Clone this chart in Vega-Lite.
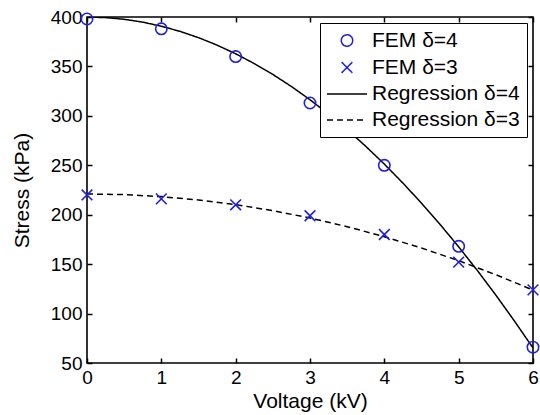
{
  "$schema": "https://vega.github.io/schema/vega-lite/v6.json",
  "width": 446,
  "height": 346,
  "autosize": {"type": "none"},
  "padding": {"left": 87, "top": 17, "right": 7, "bottom": 52},
  "background": "white",
  "config": {
    "font": "Liberation Sans",
    "view": {"stroke": "black", "strokeWidth": 1.6},
    "axis": {
      "grid": false,
      "domain": false,
      "ticks": true,
      "tickColor": "black",
      "tickOpacity": 1,
      "tickSize": 5,
      "offset": -5,
      "tickWidth": 1.5,
      "zindex": 1,
      "labelFontSize": 19,
      "labelColor": "black",
      "titleFontSize": 21,
      "titleFontWeight": "normal",
      "titleColor": "black",
      "labelFlush": false,
      "labelOverlap": false
    }
  },
  "data": {
    "values": [
      {"v": 0, "stress": 398, "series": "FEM δ=4", "kind": "fem4"},
      {"v": 1, "stress": 388, "series": "FEM δ=4", "kind": "fem4"},
      {"v": 2, "stress": 360, "series": "FEM δ=4", "kind": "fem4"},
      {"v": 3, "stress": 313, "series": "FEM δ=4", "kind": "fem4"},
      {"v": 4, "stress": 250, "series": "FEM δ=4", "kind": "fem4"},
      {"v": 5, "stress": 168, "series": "FEM δ=4", "kind": "fem4"},
      {"v": 6, "stress": 66, "series": "FEM δ=4", "kind": "fem4"},
      {"v": 0, "stress": 220, "series": "FEM δ=3", "kind": "fem3"},
      {"v": 1, "stress": 216, "series": "FEM δ=3", "kind": "fem3"},
      {"v": 2, "stress": 210, "series": "FEM δ=3", "kind": "fem3"},
      {"v": 3, "stress": 199, "series": "FEM δ=3", "kind": "fem3"},
      {"v": 4, "stress": 180, "series": "FEM δ=3", "kind": "fem3"},
      {"v": 5, "stress": 152, "series": "FEM δ=3", "kind": "fem3"},
      {"v": 6, "stress": 124, "series": "FEM δ=3", "kind": "fem3"},
      {"v": 0, "stress": 400, "series": "Regression δ=4", "kind": "reg4"},
      {"v": 0.25, "stress": 399.4, "series": "Regression δ=4", "kind": "reg4"},
      {"v": 0.5, "stress": 397.7, "series": "Regression δ=4", "kind": "reg4"},
      {"v": 0.75, "stress": 394.8, "series": "Regression δ=4", "kind": "reg4"},
      {"v": 1, "stress": 390.7, "series": "Regression δ=4", "kind": "reg4"},
      {"v": 1.25, "stress": 385.5, "series": "Regression δ=4", "kind": "reg4"},
      {"v": 1.5, "stress": 379.1, "series": "Regression δ=4", "kind": "reg4"},
      {"v": 1.75, "stress": 371.5, "series": "Regression δ=4", "kind": "reg4"},
      {"v": 2, "stress": 362.8, "series": "Regression δ=4", "kind": "reg4"},
      {"v": 2.25, "stress": 352.9, "series": "Regression δ=4", "kind": "reg4"},
      {"v": 2.5, "stress": 341.9, "series": "Regression δ=4", "kind": "reg4"},
      {"v": 2.75, "stress": 329.7, "series": "Regression δ=4", "kind": "reg4"},
      {"v": 3, "stress": 316.3, "series": "Regression δ=4", "kind": "reg4"},
      {"v": 3.25, "stress": 301.8, "series": "Regression δ=4", "kind": "reg4"},
      {"v": 3.5, "stress": 286.1, "series": "Regression δ=4", "kind": "reg4"},
      {"v": 3.75, "stress": 269.2, "series": "Regression δ=4", "kind": "reg4"},
      {"v": 4, "stress": 251.2, "series": "Regression δ=4", "kind": "reg4"},
      {"v": 4.25, "stress": 232.0, "series": "Regression δ=4", "kind": "reg4"},
      {"v": 4.5, "stress": 211.7, "series": "Regression δ=4", "kind": "reg4"},
      {"v": 4.75, "stress": 190.2, "series": "Regression δ=4", "kind": "reg4"},
      {"v": 5, "stress": 167.5, "series": "Regression δ=4", "kind": "reg4"},
      {"v": 5.25, "stress": 143.7, "series": "Regression δ=4", "kind": "reg4"},
      {"v": 5.5, "stress": 118.7, "series": "Regression δ=4", "kind": "reg4"},
      {"v": 5.75, "stress": 92.5, "series": "Regression δ=4", "kind": "reg4"},
      {"v": 6, "stress": 65.2, "series": "Regression δ=4", "kind": "reg4"},
      {"v": 0, "stress": 221, "series": "Regression δ=3", "kind": "reg3"},
      {"v": 0.5, "stress": 220.3, "series": "Regression δ=3", "kind": "reg3"},
      {"v": 1, "stress": 218.3, "series": "Regression δ=3", "kind": "reg3"},
      {"v": 1.5, "stress": 214.9, "series": "Regression δ=3", "kind": "reg3"},
      {"v": 2, "stress": 210.2, "series": "Regression δ=3", "kind": "reg3"},
      {"v": 2.5, "stress": 204.1, "series": "Regression δ=3", "kind": "reg3"},
      {"v": 3, "stress": 196.7, "series": "Regression δ=3", "kind": "reg3"},
      {"v": 3.5, "stress": 187.9, "series": "Regression δ=3", "kind": "reg3"},
      {"v": 4, "stress": 177.8, "series": "Regression δ=3", "kind": "reg3"},
      {"v": 4.5, "stress": 166.3, "series": "Regression δ=3", "kind": "reg3"},
      {"v": 5, "stress": 153.5, "series": "Regression δ=3", "kind": "reg3"},
      {"v": 5.5, "stress": 139.3, "series": "Regression δ=3", "kind": "reg3"},
      {"v": 6, "stress": 123.8, "series": "Regression δ=3", "kind": "reg3"}
    ]
  },
  "layer": [
    {
      "transform": [{"filter": "datum.kind === 'reg4' || datum.kind === 'reg3'"}],
      "mark": {"type": "line", "strokeWidth": 1.5, "clip": true},
      "encoding": {
        "x": {"field": "v", "type": "quantitative", "scale": {"domain": [0, 6], "nice": false}, "axis": {"orient": "bottom", "title": "Voltage (kV)", "tickCount": 6, "labelPadding": 5, "titlePadding": 3}},
        "y": {"field": "stress", "type": "quantitative", "scale": {"domain": [50, 400], "nice": false, "zero": false}, "axis": {"orient": "left", "title": "Stress (kPa)", "tickCount": 7, "labelPadding": 5, "titlePadding": 18}},
        "color": {
          "field": "series", "type": "nominal",
          "scale": {"domain": ["FEM δ=4", "FEM δ=3", "Regression δ=4", "Regression δ=3"], "range": ["#1f1fe6", "#1f1fe6", "black", "black"]},
          "legend": {
            "title": null,
            "orient": "top-right",
            "offset": 6,
            "padding": 7,
            "strokeColor": "black",
            "fillColor": "white",
            "labelFontSize": 21,
            "labelColor": "black",
            "labelLimit": 300,
            "rowPadding": 5,
            "symbolStrokeWidth": 1.5,
            "symbolOffset": 9,
            "labelOffset": 14
          }
        },
        "strokeDash": {
          "field": "series", "type": "nominal",
          "scale": {"domain": ["FEM δ=4", "FEM δ=3", "Regression δ=4", "Regression δ=3"], "range": [[1, 0], [1, 0], [1, 0], [6, 4]]},
          "legend": {"title": null}
        }
      }
    },
    {
      "transform": [{"filter": "datum.kind === 'fem4' || datum.kind === 'fem3'"}],
      "mark": {"type": "point", "filled": false, "strokeWidth": 1.6, "opacity": 1},
      "encoding": {
        "x": {"field": "v", "type": "quantitative", "axis": null},
        "y": {"field": "stress", "type": "quantitative", "axis": null},
        "color": {"field": "series", "type": "nominal"},
        "shape": {
          "field": "series", "type": "nominal",
          "scale": {"domain": ["FEM δ=4", "FEM δ=3", "Regression δ=4", "Regression δ=3"], "range": ["circle", "M-1,-1L1,1M-1,1L1,-1", "M-2,0L2,0", "M-2,0L2,0"]},
          "legend": {"title": null}
        },
        "size": {
          "field": "series", "type": "nominal",
          "scale": {"type": "ordinal", "domain": ["FEM δ=4", "FEM δ=3", "Regression δ=4", "Regression δ=3"], "range": [130, 115, 400, 400]},
          "legend": {"title": null}
        }
      }
    },
    {
      "transform": [{"filter": "datum.kind === 'fem4'"}],
      "mark": {"type": "point", "opacity": 0},
      "encoding": {
        "x": {"field": "v", "type": "quantitative", "axis": {"orient": "top", "labels": false, "title": null, "tickCount": 6}},
        "y": {"field": "stress", "type": "quantitative", "axis": {"orient": "right", "labels": false, "title": null, "tickCount": 7}}
      }
    }
  ],
  "resolve": {"axis": {"x": "independent", "y": "independent"}}
}
